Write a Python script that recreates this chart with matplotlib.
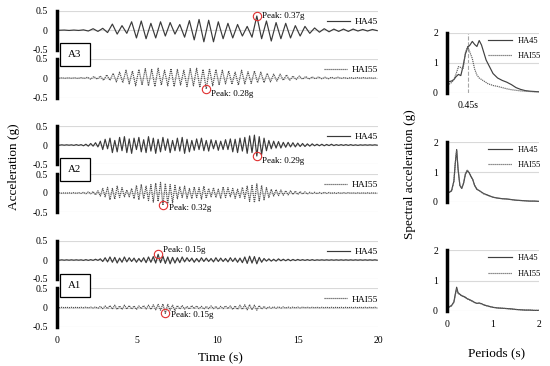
import numpy as np
import matplotlib.pyplot as plt
from matplotlib.patches import Rectangle

plt.rcParams['font.family'] = ['Liberation Serif', 'DejaVu Serif']
plt.rcParams['axes.unicode_minus'] = False

a3_ha45 = [0.0, 0.005, -0.005, 0.005, -0.005, 0.01, -0.02, 0.04, -0.03, 0.05,
           -0.06, 0.16, -0.10, 0.12, -0.08, 0.22, -0.20, 0.24, -0.22, 0.18,
           -0.20, 0.22, -0.15, 0.20, -0.10, 0.15, -0.18, 0.25, -0.25, 0.28,
           -0.30, 0.26, -0.30, 0.22, -0.22, 0.18, -0.20, 0.15, -0.15, 0.10,
           -0.18, 0.37, -0.22, 0.24, -0.28, 0.20, -0.22, 0.18, -0.20, 0.12,
           -0.15, 0.10, -0.08, 0.06, -0.05, 0.04, -0.04, 0.03, -0.03, 0.03,
           -0.03, 0.03, -0.02, 0.02, -0.02, 0.02, -0.01]
a3_hai55 = [-0.005, 0.005, -0.005, 0.005, -0.005, 0.005, -0.01, 0.01, -0.01, 0.02,
            -0.03, 0.04, -0.03, 0.05, -0.06, 0.08, -0.06, 0.12, -0.10, 0.15,
            -0.12, 0.20, -0.15, 0.18, -0.20, 0.22, -0.18, 0.24, -0.20, 0.22,
            -0.22, 0.25, -0.18, 0.20, -0.20, 0.24, -0.22, 0.22, -0.18, 0.20,
            -0.22, 0.24, -0.20, 0.25, -0.24, 0.22, -0.28, 0.24, -0.20, 0.22,
            -0.18, 0.20, -0.15, 0.18, -0.16, 0.15, -0.18, 0.20, -0.15, 0.16,
            -0.14, 0.18, -0.12, 0.15, -0.12, 0.12, -0.10, 0.10, -0.08, 0.10,
            -0.06, 0.08, -0.06, 0.05, -0.04, 0.05, -0.03, 0.04, -0.03, 0.03,
            -0.02, 0.03, -0.02, 0.02, -0.02, 0.02, -0.01, 0.02, -0.01, 0.01,
            -0.01, 0.01, -0.01, 0.01, -0.005, 0.01, -0.005, 0.005, -0.005, 0.005]
a2_ha45 = [0.0, -0.005, 0.005, -0.005, 0.005, -0.005, 0.005, -0.01, 0.01, -0.01,
           0.01, -0.02, 0.02, -0.03, 0.04, -0.03, 0.06, -0.05, 0.10, -0.12,
           0.15, -0.10, 0.18, -0.20, 0.12, -0.18, 0.20, -0.15, 0.22, -0.20,
           0.16, -0.22, 0.18, -0.12, 0.20, -0.18, 0.14, -0.20, 0.22, -0.16,
           0.18, -0.22, 0.15, -0.18, 0.20, -0.14, 0.16, -0.20, 0.12, -0.15,
           0.18, -0.16, 0.20, -0.22, 0.15, -0.18, 0.12, -0.14, 0.16, -0.12,
           0.18, -0.15, 0.12, -0.16, 0.14, -0.10, 0.12, -0.14, 0.10, -0.12,
           0.14, -0.12, 0.16, -0.18, 0.15, -0.20, 0.18, -0.16, 0.20, -0.22,
           0.24, -0.20, 0.26, -0.29, 0.22, -0.25, 0.18, -0.15, 0.12, -0.10,
           0.10, -0.08, 0.09, -0.08, 0.07, -0.06, 0.07, -0.05, 0.06, -0.05,
           0.05, -0.04, 0.04, -0.04, 0.03, -0.03, 0.03, -0.02, 0.02, -0.02,
           0.02, -0.02, 0.015, -0.015, 0.02, -0.015, 0.01, -0.01, 0.01, -0.01,
           0.01, -0.01, 0.01, -0.01, 0.005, -0.01, 0.005, -0.005, 0.005, -0.005,
           0.005, -0.005, 0.005, -0.005]
a2_hai55 = [-0.005, 0.005, -0.005, 0.005, -0.005, 0.005, -0.005, 0.01, -0.01, 0.01,
            -0.01, 0.02, -0.02, 0.03, -0.02, 0.04, -0.05, 0.06, -0.08, 0.12,
            -0.10, 0.15, -0.18, 0.12, -0.16, 0.18, -0.12, 0.14, -0.10, 0.08,
            -0.10, 0.12, -0.15, 0.20, -0.18, 0.22, -0.15, 0.18, -0.20, 0.22,
            -0.24, 0.26, -0.22, 0.28, -0.32, 0.25, -0.28, 0.22, -0.26, 0.20,
            -0.15, 0.16, -0.12, 0.18, -0.14, 0.12, -0.15, 0.16, -0.12, 0.14,
            -0.16, 0.18, -0.14, 0.12, -0.10, 0.14, -0.12, 0.10, -0.14, 0.16,
            -0.12, 0.14, -0.10, 0.12, -0.14, 0.10, -0.12, 0.15, -0.14, 0.18,
            -0.22, 0.20, -0.25, 0.24, -0.22, 0.20, -0.18, 0.14, -0.12, 0.10,
            -0.08, 0.09, -0.07, 0.08, -0.06, 0.06, -0.05, 0.06, -0.04, 0.05,
            -0.04, 0.04, -0.03, 0.03, -0.03, 0.02, -0.02, 0.02, -0.02, 0.015,
            -0.015, 0.02, -0.01, 0.015, -0.01, 0.01, -0.01, 0.01, -0.01, 0.01,
            -0.005, 0.01, -0.005, 0.005, -0.005, 0.005, -0.005, 0.005, -0.005, 0.005,
            -0.005, 0.005, -0.005, 0.005]
a1_ha45 = [0.0, -0.005, 0.005, -0.005, 0.005, -0.005, 0.005, -0.005, 0.005, -0.005,
           0.005, -0.01, 0.01, -0.01, 0.01, -0.01, 0.02, -0.01, 0.03, -0.04,
           0.06, -0.05, 0.08, -0.06, 0.07, -0.08, 0.05, -0.06, 0.08, -0.05,
           0.06, -0.04, 0.05, -0.06, 0.04, -0.05, 0.06, -0.07, 0.08, -0.06,
           0.09, -0.08, 0.15, -0.07, 0.10, -0.09, 0.08, -0.10, 0.07, -0.08,
           0.06, -0.07, 0.08, -0.05, 0.06, -0.04, 0.05, -0.06, 0.04, -0.05,
           0.06, -0.04, 0.05, -0.04, 0.04, -0.05, 0.06, -0.04, 0.05, -0.04,
           0.04, -0.05, 0.06, -0.04, 0.05, -0.06, 0.05, -0.07, 0.08, -0.09,
           0.10, -0.08, 0.09, -0.10, 0.07, -0.06, 0.04, -0.03, 0.03, -0.03,
           0.02, -0.03, 0.03, -0.02, 0.02, -0.02, 0.02, -0.02, 0.015, -0.015,
           0.015, -0.01, 0.01, -0.01, 0.01, -0.01, 0.01, -0.01, 0.005, -0.005,
           0.005, -0.005, 0.005, -0.005, 0.005, -0.005, 0.005, -0.005, 0.005, -0.005,
           0.005, -0.005, 0.005, -0.005, 0.005, -0.005, 0.005, -0.005, 0.005, -0.005,
           0.005, -0.005, 0.005, -0.005]
a1_hai55 = [0.0, -0.005, 0.005, -0.005, 0.005, -0.005, 0.005, -0.005, 0.005, -0.005,
            0.005, -0.005, 0.01, -0.01, 0.01, -0.01, 0.015, -0.02, 0.03, -0.03,
            0.04, -0.03, 0.05, -0.04, 0.06, -0.05, 0.04, -0.05, 0.06, -0.04,
            0.05, -0.04, 0.04, -0.05, 0.04, -0.03, 0.05, -0.04, 0.06, -0.05,
            0.07, -0.06, 0.08, -0.07, 0.09, -0.15, 0.08, -0.07, 0.06, -0.08,
            0.05, -0.04, 0.05, -0.04, 0.03, -0.04, 0.05, -0.03, 0.04, -0.03,
            0.03, -0.04, 0.03, -0.03, 0.04, -0.03, 0.03, -0.04, 0.03, -0.03,
            0.04, -0.03, 0.04, -0.05, 0.04, -0.05, 0.06, -0.05, 0.07, -0.06,
            0.07, -0.06, 0.06, -0.07, 0.05, -0.04, 0.03, -0.03, 0.02, -0.02,
            0.02, -0.02, 0.02, -0.015, 0.015, -0.015, 0.01, -0.01, 0.01, -0.01,
            0.01, -0.01, 0.01, -0.005, 0.005, -0.005, 0.005, -0.005, 0.005, -0.005,
            0.005, -0.005, 0.005, -0.005, 0.005, -0.005, 0.005, -0.005, 0.005, -0.005,
            0.005, -0.005, 0.005, -0.005, 0.005, -0.005, 0.005, -0.005, 0.005, -0.005,
            0.005, -0.005, 0.005, -0.005]

# sample times of the typed peaks (s)
t_a3_ha45 = 0.15 + 0.3 * np.arange(len(a3_ha45))
t_a3_hai55 = 0.1 + 0.2 * np.arange(len(a3_hai55))
t_a2 = 0.15 * np.arange(len(a2_ha45))
t_a1 = 0.15 * np.arange(len(a1_ha45))

# ---- response spectra (g) ----
periods_a3 = [0, 0.05, 0.1, 0.15, 0.2, 0.25, 0.3, 0.35, 0.4, 0.45, 0.5, 0.55, 0.6, 0.65,
              0.7, 0.75, 0.8, 0.85, 0.9, 0.95, 1.0, 1.1, 1.2, 1.3, 1.4, 1.5, 1.6, 1.7,
              1.8, 1.9, 2.0]
sa_a3_ha45 = [0.38, 0.38, 0.4, 0.45, 0.55, 0.62, 0.58, 0.9, 1.3, 1.52, 1.6, 1.72, 1.62, 1.55,
              1.75, 1.6, 1.35, 1.1, 0.95, 0.8, 0.65, 0.5, 0.42, 0.36, 0.28, 0.18, 0.12, 0.08,
              0.06, 0.05, 0.04]
sa_a3_hai55 = [0.28, 0.3, 0.35, 0.45, 0.65, 0.88, 0.85, 0.8, 1.35, 1.55, 1.35, 1.15, 0.8, 0.6,
               0.5, 0.45, 0.4, 0.35, 0.3, 0.28, 0.25, 0.22, 0.18, 0.14, 0.11, 0.09, 0.07, 0.06,
               0.05, 0.04, 0.04]
periods_a12 = [0, 0.05, 0.1, 0.15, 0.18, 0.21, 0.24, 0.28, 0.32, 0.36, 0.4, 0.44, 0.48, 0.52,
               0.56, 0.6, 0.65, 0.7, 0.75, 0.8, 0.9, 1.0, 1.1, 1.2, 1.3, 1.4, 1.5, 1.6, 1.7,
               1.8, 1.9, 2.0]
sa_a2_ha45 = [0.3, 0.32, 0.38, 0.7, 1.3, 1.75, 1.1, 0.55, 0.45, 0.62, 0.92, 1.04, 0.98, 0.85,
              0.75, 0.55, 0.42, 0.38, 0.33, 0.28, 0.22, 0.16, 0.13, 0.11, 0.1, 0.08, 0.06, 0.05,
              0.04, 0.03, 0.03, 0.02]
sa_a2_hai55 = [0.3, 0.32, 0.37, 0.68, 1.28, 1.72, 1.12, 0.56, 0.46, 0.64, 0.95, 1.06, 1.0, 0.87,
               0.74, 0.56, 0.43, 0.38, 0.32, 0.27, 0.21, 0.16, 0.13, 0.11, 0.1, 0.08, 0.06, 0.05,
               0.04, 0.03, 0.03, 0.02]
sa_a1_ha45 = [0.12, 0.14, 0.18, 0.3, 0.55, 0.78, 0.6, 0.55, 0.5, 0.48, 0.45, 0.4, 0.38, 0.35,
              0.32, 0.28, 0.25, 0.26, 0.24, 0.2, 0.16, 0.12, 0.1, 0.09, 0.08, 0.07, 0.05, 0.04,
              0.03, 0.03, 0.02, 0.02]
sa_a1_hai55 = [0.11, 0.13, 0.17, 0.28, 0.52, 0.72, 0.58, 0.53, 0.5, 0.47, 0.44, 0.4, 0.37, 0.34,
               0.31, 0.28, 0.25, 0.26, 0.23, 0.2, 0.15, 0.12, 0.1, 0.09, 0.08, 0.06, 0.05, 0.04,
               0.03, 0.03, 0.02, 0.02]

group_names = ['A3', 'A2', 'A1']
series_names = ['HA45', 'HAI55']

W, H = 550, 366
fig = plt.figure(figsize=(5.5, 3.66), dpi=100)


def px_box(x0, y0, x1, y1):
    return [x0 / W, 1 - y1 / H, (x1 - x0) / W, (y1 - y0) / H]


line_col = '#3a3a3a'
grid_col = '#d9d9d9'
dot_style = (0, (1, 0.7))

# left: time histories
records = [
    (a3_ha45, t_a3_ha45, '-', (5, 0)),
    (a3_hai55, t_a3_hai55, dot_style, (5, -5)),
    (a2_ha45, t_a2, '-', (5, -5)),
    (a2_hai55, t_a2, dot_style, (6, -3)),
    (a1_ha45, t_a1, '-', (5, 4)),
    (a1_hai55, t_a1, dot_style, (6, -2)),
]
left_rows = [(11, 49.5), (58.5, 97.5), (126, 164), (174, 212), (241, 279), (288, 327)]
box_centers = [54.5, 169.5, 285]

for k, ((vals, tt, ls, off), (y0, y1)) in enumerate(zip(records, left_rows)):
    ax = fig.add_axes(px_box(57, y0, 378, y1))
    vals = np.array(vals)
    col = line_col if k % 2 == 0 else '#505050'
    ax.plot(tt, vals, color=col, lw=0.85, ls=ls, label=series_names[k % 2])
    i = np.argmax(np.abs(vals))
    ax.plot(tt[i], vals[i], 'o', mfc='none', mec='#e03030', ms=6, mew=0.8)
    ax.annotate(f'Peak: {abs(vals[i]):.2f}g', (tt[i], vals[i]), xytext=off,
                textcoords='offset pixels', fontsize=6.5, va='center', ha='left')
    ax.set_xlim(0, 20)
    ax.set_ylim(-0.5, 0.5)
    ax.set_yticks([-0.5, 0, 0.5])
    ax.set_yticklabels(['-0.5', '0', '0.5'])
    ax.set_xticks([0, 5, 10, 15, 20])
    if k < 5:
        ax.set_xticklabels([])
    for s in ['top', 'right', 'bottom']:
        ax.spines[s].set_visible(False)
    ax.spines['left'].set_linewidth(2.5)
    ax.tick_params(length=0, labelsize=7, pad=6.5)
    ax.grid(axis='y', color=grid_col, lw=0.8)
    ax.set_axisbelow(True)
    ax.legend(loc='center right', bbox_to_anchor=(1.0, 0.71), frameon=False, fontsize=6.8,
              handlelength=2.4, handletextpad=0.5, borderpad=0, borderaxespad=0)

for name, yc in zip(group_names, box_centers):
    fig.patches.append(Rectangle((60 / W, 1 - (yc + 11.5) / H), 30 / W, 23 / H,
                                 transform=fig.transFigure, facecolor='white',
                                 edgecolor='black', lw=0.9, zorder=5))
    fig.text(75 / W, 1 - yc / H, name, ha='center', va='center', fontsize=7.8, zorder=6)

# right: spectra
spectra = [
    (periods_a3, sa_a3_ha45, sa_a3_hai55),
    (periods_a12, sa_a2_ha45, sa_a2_hai55),
    (periods_a12, sa_a1_ha45, sa_a1_hai55),
]
right_rows = [(33, 93), (142, 202), (250, 311)]
for k, ((pp, s1, s2), (y0, y1)) in enumerate(zip(spectra, right_rows)):
    ax = fig.add_axes(px_box(447, y0, 539, y1))
    ax.plot(pp, s1, color='#404040', lw=0.85, ls='-', label='HA45')
    ax.plot(pp, s2, color='#606060', lw=0.85, ls=dot_style, label='HAI55')
    ax.set_xlim(0, 2)
    ax.set_ylim(0, 2)
    ax.set_yticks([0, 1, 2])
    ax.set_xticks([0, 1, 2])
    if k < 2:
        ax.set_xticklabels([])
    for s in ['top', 'right', 'bottom']:
        ax.spines[s].set_visible(False)
    ax.spines['left'].set_linewidth(2.5)
    ax.tick_params(length=0, labelsize=7, pad=6.5)
    ax.grid(axis='y', color=grid_col, lw=0.8)
    ax.set_axisbelow(True)
    ax.legend(loc='center right', bbox_to_anchor=(1.02, 0.74), frameon=False, fontsize=6,
              handlelength=2.9, handletextpad=0.6, labelspacing=0.9, borderpad=0,
              borderaxespad=0)
    if k == 0:
        ax.axvline(0.45, color='#a6a6a6', ls='--', lw=0.8, zorder=0)
        ax.text(0.45, -0.43, '0.45s', ha='center', va='center', fontsize=7, clip_on=False)

fig.text(14 / W, 1 - 167 / H, 'Acceleration (g)', rotation=90, ha='center', va='center',
         fontsize=9.5)
fig.text(410 / W, 1 - 174 / H, 'Spectral acceleration (g)', rotation=90, ha='center',
         va='center', fontsize=9.5)
fig.text(220 / W, 1 - 358 / H, 'Time (s)', ha='center', va='center', fontsize=9.5)
fig.text(497 / W, 1 - 353 / H, 'Periods (s)', ha='center', va='center', fontsize=9.5)

fig.savefig('out.png', dpi=100)
